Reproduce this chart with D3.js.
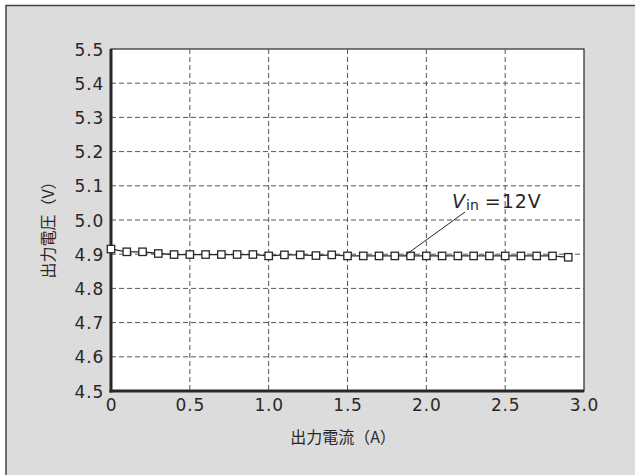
<!DOCTYPE html>
<html><head><meta charset="utf-8">
<script src="https://cdn.jsdelivr.net/npm/d3@7/dist/d3.min.js"></script>
<style>body{margin:0;background:#fff}svg{display:block}</style>
</head><body>
<svg id="c" width="635" height="475"></svg>
<script>
const currents = [0,0.1,0.2,0.3,0.4,0.5,0.6,0.7,0.8,0.9,1.0,1.1,1.2,1.3,1.4,1.5,1.6,1.7,1.8,1.9,2.0,2.1,2.2,2.3,2.4,2.5,2.6,2.7,2.8,2.9];
const voltages = [4.915,4.907,4.907,4.902,4.899,4.899,4.899,4.899,4.899,4.899,4.895,4.898,4.898,4.896,4.898,4.895,4.895,4.895,4.895,4.895,4.895,4.895,4.895,4.895,4.895,4.895,4.895,4.895,4.895,4.891];
const xTicks = [0,0.5,1.0,1.5,2.0,2.5,3.0];
const xTickLabels = ["0","0.5","1.0","1.5","2.0","2.5","3.0"];
const yTicks = [4.5,4.6,4.7,4.8,4.9,5.0,5.1,5.2,5.3,5.4,5.5];
const xTitle = "出力電流（A）";
const yTitle = "出力電圧（V）";

const svg = d3.select("#c");
const ink = "#2a2626";
svg.append("rect").attr("x",6).attr("y",5.5).attr("width",640).attr("height",480)
  .attr("fill","#dcdcdc").attr("stroke","#444").attr("stroke-width",1.5);

const L=111, R=584, T=49, B=391;
const x = d3.scaleLinear().domain([0,3]).range([L,R]);
const y = d3.scaleLinear().domain([4.5,5.5]).range([B,T]);

svg.append("rect").attr("x",L).attr("y",T).attr("width",R-L).attr("height",B-T).attr("fill","#fff")
  .attr("stroke",ink).attr("stroke-width",1.2);

const g = svg.append("g");
g.selectAll(".hg").data(yTicks.slice(1,-1)).join("line")
  .attr("x1",L).attr("x2",R).attr("y1",d=>y(d)).attr("y2",d=>y(d))
  .attr("stroke","#555").attr("stroke-width",1).attr("stroke-dasharray","5,3");
g.selectAll(".vg").data(xTicks.slice(1,-1)).join("line")
  .attr("y1",T).attr("y2",B).attr("x1",d=>x(d)).attr("x2",d=>x(d))
  .attr("stroke","#555").attr("stroke-width",1).attr("stroke-dasharray","5,3");

// axes
const fontNum = "'DejaVu Sans', sans-serif";
const yAxis = svg.append("g").attr("transform",`translate(${L},0)`)
  .call(d3.axisLeft(y).tickValues(yTicks).tickFormat(d3.format(".1f")).tickSize(0).tickPadding(7));
yAxis.select(".domain").remove();
yAxis.selectAll("text").attr("font-family",fontNum).attr("font-size",17).attr("fill",ink)
  .attr("letter-spacing","0.8px").attr("dy","0.36em");
const xAxis = svg.append("g").attr("transform",`translate(0,${B})`)
  .call(d3.axisBottom(x).tickValues(xTicks).tickFormat((d,i)=>xTickLabels[i]).tickSize(0).tickPadding(8));
xAxis.select(".domain").remove();
xAxis.selectAll("text").attr("font-family",fontNum).attr("font-size",17).attr("fill",ink)
  .attr("letter-spacing","0.8px");

svg.append("line").attr("x1",L).attr("x2",L).attr("y1",T).attr("y2",B+1.5).attr("stroke",ink).attr("stroke-width",3);
svg.append("line").attr("x1",L-1.5).attr("x2",R).attr("y1",B).attr("y2",B).attr("stroke",ink).attr("stroke-width",3);

// titles
const fontCJK = "'Noto Sans CJK JP', sans-serif";
svg.append("text").attr("x",343).attr("y",443).attr("text-anchor","middle")
  .attr("font-family",fontCJK).attr("font-size",16).attr("fill",ink).text(xTitle);
svg.append("text").attr("transform","translate(54,226) rotate(-90)").attr("text-anchor","middle")
  .attr("font-family",fontCJK).attr("font-size",16).attr("fill",ink).text(yTitle);

// data
const pts = currents.map((c,i)=>[c,voltages[i]]);
svg.append("path").datum(pts).attr("fill","none").attr("stroke",ink).attr("stroke-width",1.3)
  .attr("d",d3.line().x(d=>x(d[0])).y(d=>y(d[1])));
svg.selectAll(".m").data(pts).join("rect")
  .attr("x",d=>x(d[0])-3.7).attr("y",d=>y(d[1])-3.7).attr("width",7.4).attr("height",7.4)
  .attr("fill","#fff").attr("stroke",ink).attr("stroke-width",1.3);

// annotation
svg.append("line").attr("x1",x(1.86)).attr("y1",y(4.895)).attr("x2",465).attr("y2",212)
  .attr("stroke",ink).attr("stroke-width",1);
const ann = svg.append("text").attr("x",452).attr("y",208).attr("font-family",fontNum)
  .attr("font-size",19).attr("fill",ink);
ann.append("tspan").attr("font-style","italic").text("V");
ann.append("tspan").attr("font-size",14).attr("dy",2).attr("dx",1).text("in");
ann.append("tspan").attr("dy",-2).attr("dx",6).attr("letter-spacing","1px").text("=12V");
</script>
</body></html>
